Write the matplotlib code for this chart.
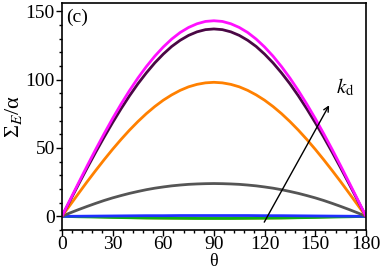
import numpy as np
import matplotlib
matplotlib.use('Agg')
import matplotlib.pyplot as plt
from matplotlib.ticker import MultipleLocator

plt.rcParams['font.family'] = 'Liberation Serif'
plt.rcParams['mathtext.fontset'] = 'stix'

# theta grid (degrees), values every 5 degrees (0..90)
theta = list(range(0, 181, 5))

half_magenta = [0, 12.5, 24.8, 37.0, 48.9, 60.4, 71.5, 82.0, 91.9, 101.1,
                109.5, 117.1, 123.8, 129.6, 134.4, 138.1, 140.8, 142.5, 143.0]
half_purple = [0, 11.9, 23.8, 35.5, 46.9, 57.9, 68.5, 78.6, 88.1, 96.9,
               104.9, 112.2, 118.6, 124.2, 128.7, 132.3, 134.9, 136.5, 137.0]
half_orange = [0, 8.5, 17.0, 25.4, 33.5, 41.4, 49.0, 56.2, 63.0, 69.3,
               75.1, 80.3, 84.9, 88.8, 92.1, 94.7, 96.5, 97.6, 98.0]
half_gray = [0, 2.6, 5.0, 7.3, 9.5, 11.6, 13.5, 15.2, 16.8, 18.2,
             19.5, 20.6, 21.5, 22.3, 22.9, 23.4, 23.7, 23.9, 24.0]
half_blue = [0, 0.05, 0.1, 0.15, 0.2, 0.25, 0.3, 0.35, 0.4, 0.45,
             0.5, 0.5, 0.5, 0.55, 0.6, 0.6, 0.6, 0.6, 0.6]
half_green = [0, -0.15, -0.3, -0.4, -0.5, -0.65, -0.8, -0.9, -1.0, -1.1,
              -1.2, -1.25, -1.3, -1.35, -1.4, -1.45, -1.5, -1.5, -1.5]
half_tan = [0, -0.2, -0.4, -0.6, -0.8, -0.95, -1.1, -1.25, -1.4, -1.55,
            -1.7, -1.8, -1.9, -1.95, -2.0, -2.05, -2.1, -2.1, -2.1]


def mirror(h):
    # curves are symmetric about 90 degrees
    return h + h[-2::-1]


series = [
    (mirror(half_tan), '#f0b070', 1.0),
    (mirror(half_green), '#10b010', 2.0),
    (mirror(half_blue), '#2030ff', 2.0),
    (mirror(half_gray), '#555555', 2.0),
    (mirror(half_orange), '#ff8000', 2.0),
    (mirror(half_purple), '#4a0845', 2.0),
    (mirror(half_magenta), '#ff10ff', 2.0),
]

fig = plt.figure(figsize=(3.82, 2.70), dpi=100)
ax = fig.add_axes([0.162, 0.148, 0.796, 0.841])

for y, c, lw in series:
    ax.plot(theta, y, color=c, lw=lw, solid_capstyle='round')

ax.set_xlim(0, 180)
ax.set_ylim(-10, 156)
ax.xaxis.set_major_locator(MultipleLocator(30))
ax.xaxis.set_minor_locator(MultipleLocator(6))
ax.yaxis.set_major_locator(MultipleLocator(50))
ax.yaxis.set_minor_locator(MultipleLocator(10))
ax.tick_params(which='both', direction='out', labelsize=14, width=1, pad=1,
               top=False, right=False)
ax.tick_params(axis='x', pad=0)
ax.tick_params(which='major', length=4)
ax.tick_params(which='minor', length=2.5)
for s in ax.spines.values():
    s.set_linewidth(1.2)

ax.set_xlabel('θ', fontsize=13, labelpad=0)
ax.set_ylabel('Σ$_{E}$/α', fontsize=16, labelpad=1)

ax.text(0.015, 0.975, '(c)', transform=ax.transAxes, fontsize=14,
        ha='left', va='top')

ax.annotate('', xy=(159, 83), xytext=(119, -6),
            arrowprops=dict(arrowstyle='->', color='black', lw=1,
                            mutation_scale=9))
ax.text(162, 86, r'$k_{\mathrm{d}}$', fontsize=15, ha='left', va='bottom')

fig.savefig('out.png', dpi=100)
